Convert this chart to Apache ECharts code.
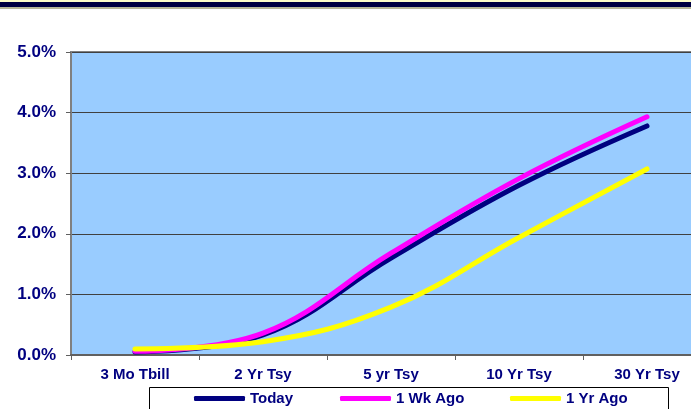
<!DOCTYPE html>
<html>
<head>
<meta charset="utf-8">
<script src="https://cdn.jsdelivr.net/npm/echarts@6/dist/echarts.min.js"></script>
<style>
html, body { margin: 0; padding: 0; background: #fff; overflow: hidden; }
#chart { width: 720px; height: 409px; }
</style>
</head>
<body>
<div id="chart"></div>
<script>
// yield curve data (percent)
var categories = ['3 Mo Tbill', '2 Yr Tsy', '5 yr Tsy', '10 Yr Tsy', '30 Yr Tsy'];
var today = [0.05, 0.33, 1.60, 2.80, 3.78];
var wkAgo = [0.06, 0.36, 1.68, 2.91, 3.93];
var yrAgo = [0.10, 0.22, 0.79, 1.94, 3.07];
var yTicks = [0, 1, 2, 3, 4, 5];

var navy = '#000080';
// chart is a bit wider than the window: the plot area runs off the right edge
var myChart = echarts.init(document.getElementById('chart'));

function lineSeries(name, data, color) {
    return {
        name: name,
        type: 'line',
        data: data,
        smooth: 0.4,
        symbol: 'none',
        lineStyle: { color: color, width: 5, cap: 'round' },
        itemStyle: { color: color }
    };
}

function legendItem(name, left) {
    return {
        data: [name],
        left: left,
        top: 391,
        padding: 0,
        icon: 'roundRect',
        itemWidth: 51,
        itemHeight: 5,
        selectedMode: false,
        textStyle: { color: navy, fontWeight: 'bold', fontSize: 15, fontFamily: 'Arial, Liberation Sans' }
    };
}

var option = {
    animation: false,
    graphic: [
        { type: 'rect', shape: { x: 0, y: 0, width: 720, height: 2 }, style: { fill: '#FFFFC8' } },
        { type: 'rect', shape: { x: 0, y: 2, width: 720, height: 5 }, style: { fill: '#000040' } },
        { type: 'rect', shape: { x: 0, y: 7, width: 720, height: 2 }, style: { fill: '#B8B898' } },
        { type: 'rect', z: -1, shape: { x: 149.5, y: 387.5, width: 519, height: 40 }, style: { fill: '#fff', stroke: '#000', lineWidth: 1 } }
    ],
    grid: {
        left: 71, top: 52, width: 640, height: 303,
        show: true, backgroundColor: '#99CCFF', borderColor: '#808080', borderWidth: 2
    },
    legend: [legendItem('Today', 194), legendItem('1 Wk Ago', 340), legendItem('1 Yr Ago', 510)],
    xAxis: {
        type: 'category',
        data: categories,
        boundaryGap: true,
        axisLine: { lineStyle: { color: '#606060', width: 2 } },
        axisTick: { show: true, length: 5, lineStyle: { color: '#606060' } },
        axisLabel: { color: navy, fontWeight: 'bold', fontSize: 15, margin: 12, fontFamily: 'Arial, Liberation Sans', interval: 0 }
    },
    yAxis: {
        type: 'value',
        min: 0, max: 5, interval: 1,
        axisLine: { show: true, lineStyle: { color: '#808080', width: 2 } },
        axisTick: { show: true, length: 5, lineStyle: { color: '#606060' } },
        splitLine: { lineStyle: { color: '#404040', width: 1 } },
        axisLabel: {
            color: navy, fontWeight: 'bold', fontSize: 17, margin: 15, fontFamily: 'Arial, Liberation Sans',
            formatter: function (v) { return yTicks.indexOf(v) >= 0 ? v.toFixed(1) + '%' : ''; }
        }
    },
    series: [
        lineSeries('Today', today, navy),
        lineSeries('1 Wk Ago', wkAgo, '#FF00FF'),
        lineSeries('1 Yr Ago', yrAgo, '#FFFF00')
    ]
};
option.series[1].z = 3;
option.series[2].z = 4;

myChart.setOption(option);
</script>
</body>
</html>
